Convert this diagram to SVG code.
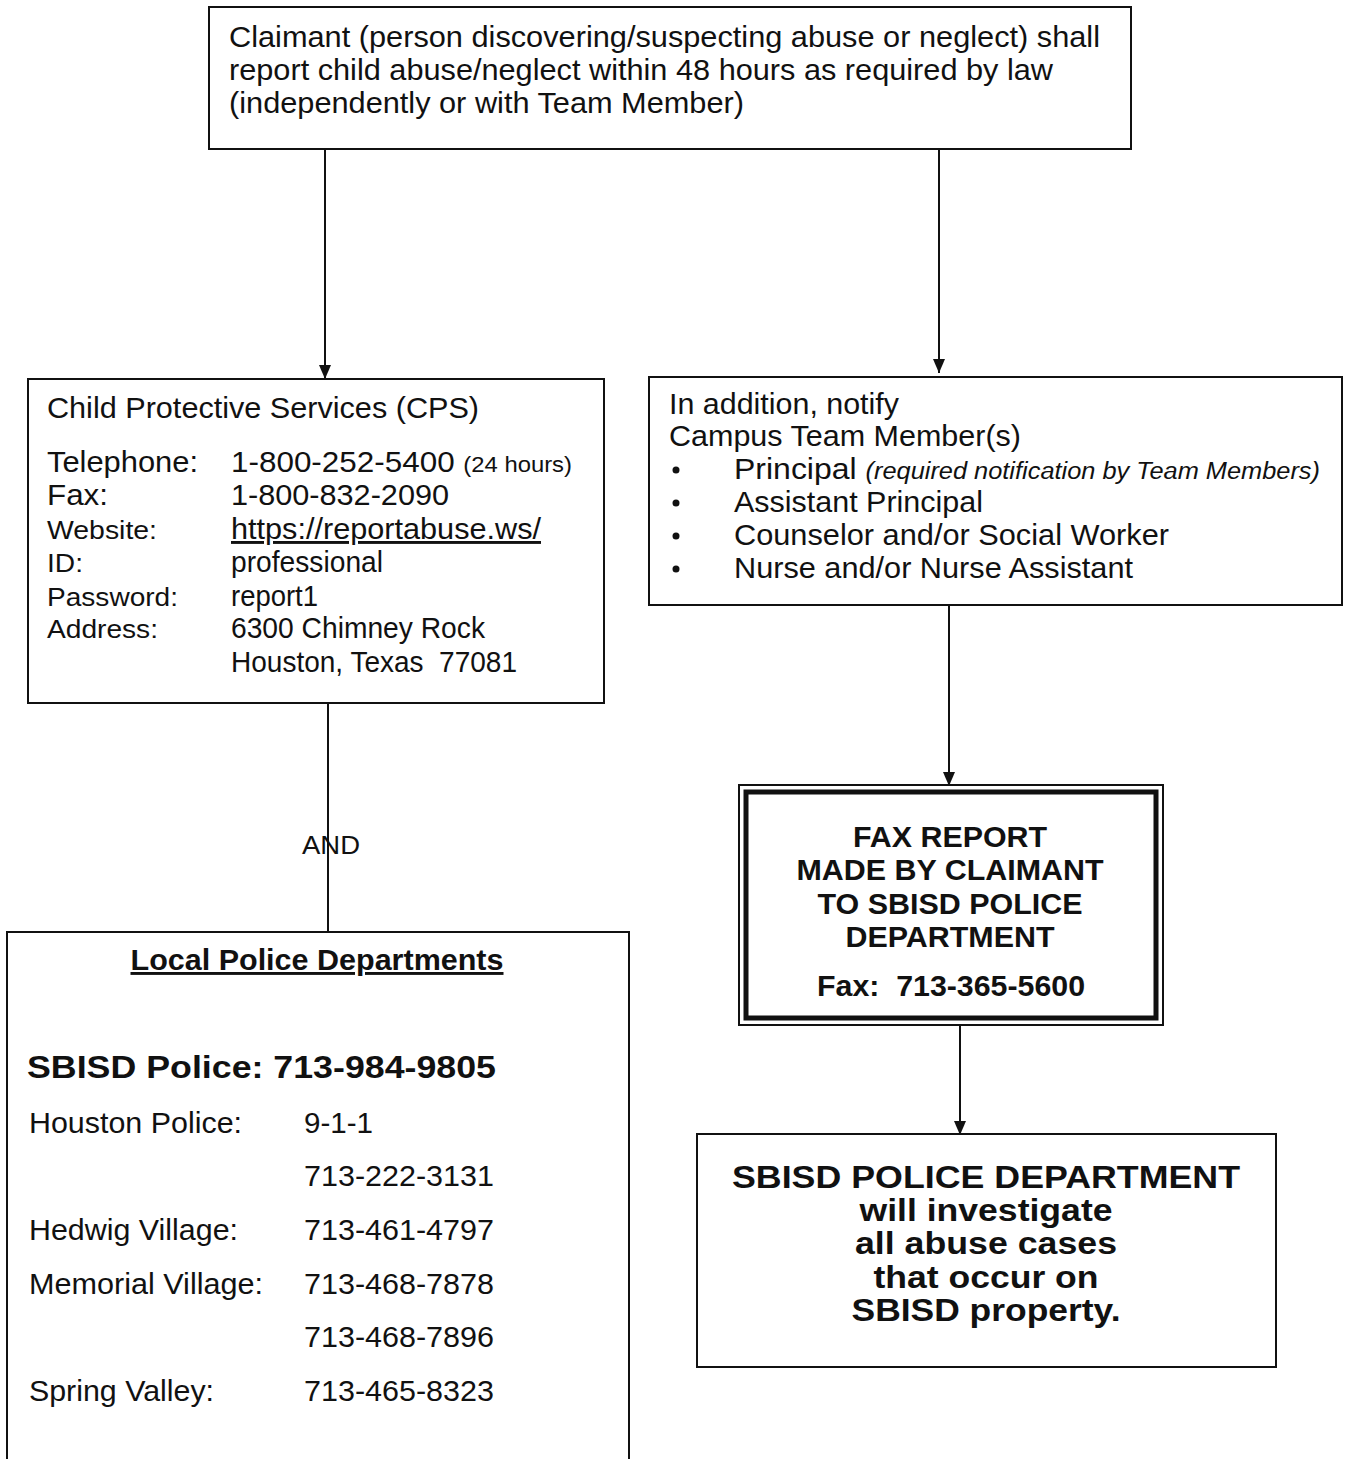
<svg xmlns="http://www.w3.org/2000/svg" width="1345" height="1459" viewBox="0 0 1345 1459">
<style>
.box{fill:#fff;stroke:#111;stroke-width:2}
.t{font-family:"Liberation Sans",Arial,sans-serif;font-size:29px;fill:#111}
.s{font-size:22px}
.i{font-style:italic;font-size:23px}
.b{font-weight:bold}
.c{text-anchor:middle}
.big{font-size:32px}
.ln{stroke:#111;stroke-width:2;fill:none}
.ah{fill:#111}
</style>
<rect width="1345" height="1459" fill="#fff"/>
<g id="connectors">
<line class="ln" x1="325" y1="150" x2="325" y2="378"/>
<path class="ah" d="M319,365 L331,365 L325,379 Z"/>
<line class="ln" x1="939" y1="146" x2="939" y2="373"/>
<path class="ah" d="M933,359 L945,359 L939,373 Z"/>
<line class="ln" x1="949" y1="605" x2="949" y2="786"/>
<path class="ah" d="M943,772 L955,772 L949,786 Z"/>
<line class="ln" x1="960" y1="1025" x2="960" y2="1135"/>
<path class="ah" d="M954,1121 L966,1121 L960,1135 Z"/>
<line class="ln" x1="328" y1="704" x2="328" y2="932"/>
<text class="t" x="302" y="854" style="font-size:26px" textLength="58" lengthAdjust="spacingAndGlyphs">AND</text>
</g>
<g id="claimant">
<rect class="box" x="209" y="7" width="922" height="142"/>
<text class="t" x="229" y="47" textLength="871" lengthAdjust="spacingAndGlyphs">Claimant (person discovering/suspecting abuse or neglect) shall</text>
<text class="t" x="229" y="80" textLength="824" lengthAdjust="spacingAndGlyphs">report child abuse/neglect within 48 hours as required by law</text>
<text class="t" x="229" y="113" textLength="515" lengthAdjust="spacingAndGlyphs">(independently or with Team Member)</text>
</g>
<g id="cps">
<rect class="box" x="28" y="379" width="576" height="324"/>
<text class="t" x="47" y="418" textLength="432" lengthAdjust="spacingAndGlyphs">Child Protective Services (CPS)</text>
<text class="t" x="47" y="472" textLength="151" lengthAdjust="spacingAndGlyphs">Telephone:</text>
<text class="t" x="231" y="472" textLength="341" lengthAdjust="spacingAndGlyphs">1-800-252-5400 <tspan class="s">(24 hours)</tspan></text>
<text class="t" x="47" y="505" textLength="61" lengthAdjust="spacingAndGlyphs">Fax:</text>
<text class="t" x="231" y="505" textLength="218" lengthAdjust="spacingAndGlyphs">1-800-832-2090</text>
<text class="t" x="47" y="539" style="font-size:26px" textLength="110" lengthAdjust="spacingAndGlyphs">Website:</text>
<text class="t" x="231" y="539" text-decoration="underline" textLength="310" lengthAdjust="spacingAndGlyphs">https://reportabuse.ws/</text>
<text class="t" x="47" y="572" style="font-size:26px" textLength="36" lengthAdjust="spacingAndGlyphs">ID:</text>
<text class="t" x="231" y="572" textLength="152" lengthAdjust="spacingAndGlyphs">professional</text>
<text class="t" x="47" y="606" style="font-size:26px" textLength="131" lengthAdjust="spacingAndGlyphs">Password:</text>
<text class="t" x="231" y="606" textLength="87" lengthAdjust="spacingAndGlyphs">report1</text>
<text class="t" x="47" y="638" style="font-size:26px" textLength="111" lengthAdjust="spacingAndGlyphs">Address:</text>
<text class="t" x="231" y="638" textLength="254" lengthAdjust="spacingAndGlyphs">6300 Chimney Rock</text>
<text class="t" x="231" y="672" xml:space="preserve" textLength="286" lengthAdjust="spacingAndGlyphs">Houston, Texas  77081</text>
</g>
<g id="notify">
<rect class="box" x="649" y="377" width="693" height="228"/>
<text class="t" x="669" y="414" textLength="230" lengthAdjust="spacingAndGlyphs">In addition, notify</text>
<text class="t" x="669" y="446" textLength="352" lengthAdjust="spacingAndGlyphs">Campus Team Member(s)</text>
<circle cx="676" cy="470" r="3.5" fill="#111"/>
<circle cx="676" cy="503" r="3.5" fill="#111"/>
<circle cx="676" cy="536" r="3.5" fill="#111"/>
<circle cx="676" cy="569" r="3.5" fill="#111"/>
<text class="t" x="734" y="479" textLength="586" lengthAdjust="spacingAndGlyphs">Principal <tspan class="i">(required notification by Team Members)</tspan></text>
<text class="t" x="734" y="512" textLength="249" lengthAdjust="spacingAndGlyphs">Assistant Principal</text>
<text class="t" x="734" y="545" textLength="435" lengthAdjust="spacingAndGlyphs">Counselor and/or Social Worker</text>
<text class="t" x="734" y="578" textLength="399" lengthAdjust="spacingAndGlyphs">Nurse and/or Nurse Assistant</text>
</g>
<g id="fax">
<rect class="box" x="739" y="785" width="424" height="240"/>
<rect x="746" y="792" width="410" height="226" fill="none" stroke="#111" stroke-width="5"/>
<text class="t b c" x="950" y="847" textLength="194" lengthAdjust="spacingAndGlyphs">FAX REPORT</text>
<text class="t b c" x="950" y="880" textLength="307" lengthAdjust="spacingAndGlyphs">MADE BY CLAIMANT</text>
<text class="t b c" x="950" y="914" textLength="265" lengthAdjust="spacingAndGlyphs">TO SBISD POLICE</text>
<text class="t b c" x="950" y="947" textLength="209" lengthAdjust="spacingAndGlyphs">DEPARTMENT</text>
<text class="t b c" x="951" y="996" xml:space="preserve" textLength="268" lengthAdjust="spacingAndGlyphs">Fax:  713-365-5600</text>
</g>
<g id="local">
<rect class="box" x="7" y="932" width="622" height="540"/>
<text class="t b c" x="317" y="970" text-decoration="underline" textLength="373" lengthAdjust="spacingAndGlyphs">Local Police Departments</text>
<text class="t b" x="27" y="1078" style="font-size:32px" textLength="469" lengthAdjust="spacingAndGlyphs">SBISD Police: 713-984-9805</text>
<text class="t" x="29" y="1133" textLength="213" lengthAdjust="spacingAndGlyphs">Houston Police:</text>
<text class="t" x="304" y="1133" textLength="69" lengthAdjust="spacingAndGlyphs">9-1-1</text>
<text class="t" x="304" y="1186" textLength="190" lengthAdjust="spacingAndGlyphs">713-222-3131</text>
<text class="t" x="29" y="1240" textLength="209" lengthAdjust="spacingAndGlyphs">Hedwig Village:</text>
<text class="t" x="304" y="1240" textLength="190" lengthAdjust="spacingAndGlyphs">713-461-4797</text>
<text class="t" x="29" y="1294" textLength="234" lengthAdjust="spacingAndGlyphs">Memorial Village:</text>
<text class="t" x="304" y="1294" textLength="190" lengthAdjust="spacingAndGlyphs">713-468-7878</text>
<text class="t" x="304" y="1347" textLength="190" lengthAdjust="spacingAndGlyphs">713-468-7896</text>
<text class="t" x="29" y="1401" textLength="185" lengthAdjust="spacingAndGlyphs">Spring Valley:</text>
<text class="t" x="304" y="1401" textLength="190" lengthAdjust="spacingAndGlyphs">713-465-8323</text>
</g>
<g id="sbisd">
<rect class="box" x="697" y="1134" width="579" height="233"/>
<text class="t b c big" x="986" y="1188" textLength="508" lengthAdjust="spacingAndGlyphs">SBISD POLICE DEPARTMENT</text>
<text class="t b c big" x="986" y="1221" textLength="253" lengthAdjust="spacingAndGlyphs">will investigate</text>
<text class="t b c big" x="986" y="1254" textLength="262" lengthAdjust="spacingAndGlyphs">all abuse cases</text>
<text class="t b c big" x="986" y="1288" textLength="225" lengthAdjust="spacingAndGlyphs">that occur on</text>
<text class="t b c big" x="986" y="1321" textLength="269" lengthAdjust="spacingAndGlyphs">SBISD property.</text>
</g>
</svg>
